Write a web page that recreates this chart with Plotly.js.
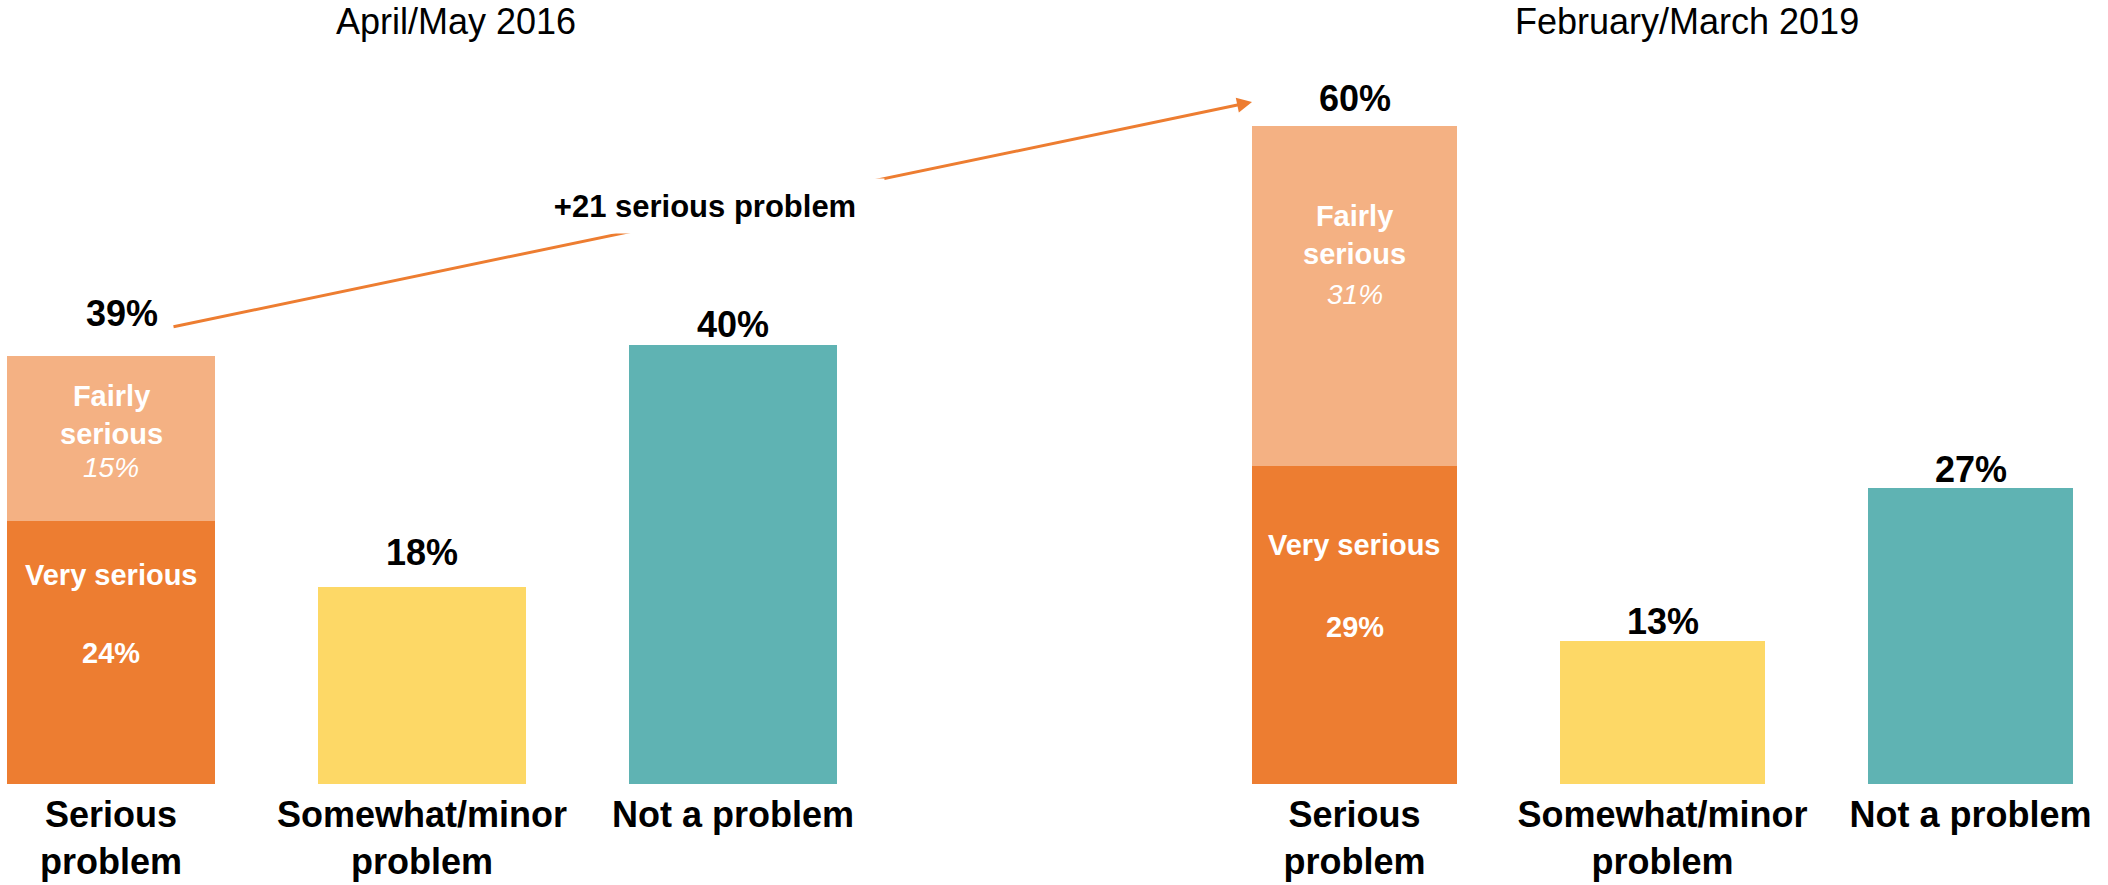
<!DOCTYPE html>
<html>
<head>
<meta charset="utf-8">
<script src="https://cdn.plot.ly/plotly-3.0.1.min.js"></script>
<style>html,body{margin:0;padding:0;background:#fff;}#chart{width:2108px;height:885px;}</style>
</head>
<body>
<div id="chart"></div>
<script>
// ---- data ----
const categories = ["Serious<br>problem", "Somewhat/minor<br>problem", "Not a problem"];
const periods = ["April/May 2016", "February/March 2019"];
const verySerious = [24, 29];
const fairlySerious = [15, 31];
const somewhatMinor = [18, 13];
const notAProblem = [40, 27];
const seriousTotal = [39, 60];
const changeLabel = "+21 serious problem";

// ---- styling ----
const FONT = "'Liberation Sans', Arial, sans-serif";
const C_VERY = "#ED7D31", C_FAIRLY = "#F4B183", C_SOME = "#FDD866", C_NOT = "#5FB3B3";
const BARW = 0.666;
const axes = [{x: "x", y: "y"}, {x: "x2", y: "y2"}];

const traces = [];
periods.forEach((p, i) => {
  const ax = axes[i];
  traces.push({type: "bar", x: [categories[0]], y: [verySerious[i]], xaxis: ax.x, yaxis: ax.y,
    marker: {color: C_VERY}, width: [BARW], hoverinfo: "skip", showlegend: false, name: "Very serious"});
  traces.push({type: "bar", x: [categories[0]], y: [fairlySerious[i]], xaxis: ax.x, yaxis: ax.y,
    marker: {color: C_FAIRLY}, width: [BARW], hoverinfo: "skip", showlegend: false, name: "Fairly serious"});
  traces.push({type: "bar", x: [categories[1]], y: [somewhatMinor[i]], xaxis: ax.x, yaxis: ax.y,
    marker: {color: C_SOME}, width: [BARW], hoverinfo: "skip", showlegend: false, name: "Somewhat/minor"});
  traces.push({type: "bar", x: [categories[2]], y: [notAProblem[i]], xaxis: ax.x, yaxis: ax.y,
    marker: {color: C_NOT}, width: [BARW], hoverinfo: "skip", showlegend: false, name: "Not a problem"});
});

const W = 2108, PH = 784;
const annotations = [];

// period titles
const titleX = [456, 1687];
periods.forEach((p, i) => annotations.push({
  text: p, xref: "paper", yref: "paper", x: titleX[i] / W, y: (PH - 22) / PH,
  xanchor: "center", yanchor: "middle", showarrow: false,
  font: {family: FONT, size: 36, color: "#000"}
}));

// value labels above bars  [shift placements]
const valueShift = [[43, 34, 21], [27, 20, 18]];
const valueXShift = [[11, 0, 0], [0, 0, 0]];
periods.forEach((p, i) => {
  const vals = [seriousTotal[i], somewhatMinor[i], notAProblem[i]];
  vals.forEach((v, k) => annotations.push({
    text: v + "%", xref: axes[i].x, yref: axes[i].y, x: categories[k], y: v,
    xanchor: "center", yanchor: "middle", yshift: valueShift[i][k], xshift: valueXShift[i][k],
    showarrow: false, font: {family: FONT, size: 36, color: "#000", weight: "bold"}
  }));
});

// labels inside the serious bar (axis-unit placements)
const insidePos = [
  {fairly: 33.68, fairlyVal: 28.81, very: 19.05, veryVal: 11.94},
  {fairly: 50.05, fairlyVal: 44.58, very: 21.79, veryVal: 14.31}
];
periods.forEach((p, i) => {
  const ip = insidePos[i];
  const base = {xref: axes[i].x, yref: axes[i].y, x: categories[0], xanchor: "center", yanchor: "middle", showarrow: false};
  annotations.push(Object.assign({}, base, {text: "Fairly<br>serious", y: ip.fairly,
    font: {family: FONT, size: 29, color: "#fff", weight: "bold"}}));
  annotations.push(Object.assign({}, base, {text: fairlySerious[i] + "%", y: ip.fairlyVal,
    font: {family: FONT, size: 28, color: "#fff", style: "italic"}}));
  annotations.push(Object.assign({}, base, {text: "Very serious", y: ip.very,
    font: {family: FONT, size: 29, color: "#fff", weight: "bold"}}));
  annotations.push(Object.assign({}, base, {text: verySerious[i] + "%", y: ip.veryVal,
    font: {family: FONT, size: 29, color: "#fff", weight: "bold"}}));
});

// change arrow
annotations.push({
  text: "", xref: "paper", yref: "paper", x: 1252 / W, y: (PH - 102) / PH,
  axref: "pixel", ayref: "pixel", ax: 172 - 1252, ay: 327 - 102,
  showarrow: true, arrowhead: 2, arrowsize: 1, arrowwidth: 3, arrowcolor: C_VERY, standoff: 0
});
annotations.push({
  text: changeLabel, xref: "paper", yref: "paper", x: 705 / W, y: (PH - 206) / PH,
  xanchor: "center", yanchor: "middle", showarrow: false, bgcolor: "#fff",
  width: 358, height: 54, borderpad: 0,
  font: {family: FONT, size: 31, color: "#000", weight: "bold"}
});

const xCommon = {type: "category", categoryorder: "array", categoryarray: categories,
  showgrid: false, zeroline: false, showline: false, ticks: "", fixedrange: true,
  ticklabelstandoff: 6,
  tickfont: {family: FONT, size: 36, color: "#000", weight: "bold"}};
const yCommon = {range: [0, PH / 10.97], visible: false, showgrid: false, zeroline: false, fixedrange: true};

const layout = {
  width: W, height: 885,
  margin: {l: 0, r: 0, t: 0, b: 101},
  paper_bgcolor: "#fff", plot_bgcolor: "#fff",
  barmode: "stack", showlegend: false,
  font: {family: FONT},
  xaxis: Object.assign({}, xCommon, {domain: [0, 1000 / W], range: [-111 / 311, (1000 - 111) / 311], anchor: "y"}),
  xaxis2: Object.assign({}, xCommon, {domain: [1100 / W, 1], range: [(1100 - 1354.5) / 308, (W - 1354.5) / 308], anchor: "y2"}),
  yaxis: Object.assign({}, yCommon, {anchor: "x"}),
  yaxis2: Object.assign({}, yCommon, {anchor: "x2"}),
  annotations: annotations
};

Plotly.newPlot("chart", traces, layout, {displayModeBar: false, staticPlot: true});
</script>
</body>
</html>
